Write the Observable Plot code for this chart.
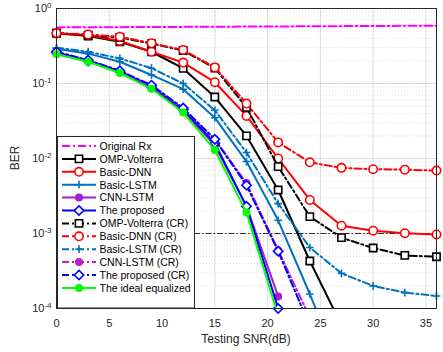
<!DOCTYPE html>
<html><head><meta charset="utf-8">
<script src="https://cdn.jsdelivr.net/npm/d3@7"></script>
<script src="https://cdn.jsdelivr.net/npm/@observablehq/plot@0.6"></script>
<style>html,body{margin:0;padding:0;background:#fff;} #chart{width:443px;height:352px;}</style>
</head><body><div id="chart"></div>
<script>
// ---- data ----
const snr = [0, 3, 6, 9, 12, 15, 18, 21, 24, 27, 30, 33, 36];
const xTicks = [0, 5, 10, 15, 20, 25, 30, 35];
const yTicks = [1e-4, 1e-3, 1e-2, 1e-1, 1];
const yTickExp = ["-4", "-3", "-2", "-1", "0"];
const threshold = [1e-3];

const originalRx     = [0.56, 0.562, 0.564, 0.566, 0.569, 0.571, 0.574, 0.576, 0.579, 0.582, 0.585, 0.587, 0.59];
const ompVolterra    = [0.47, 0.43, 0.36, 0.265, 0.159, 0.066, 0.02, 0.0038, 0.00043, 0.00006];
const basicDNN       = [0.46, 0.44, 0.37, 0.265, 0.19, 0.104, 0.037, 0.01, 0.0028, 0.00127, 0.00109, 0.00101, 0.00097];
const basicLSTM      = [0.29, 0.25, 0.195, 0.13, 0.084, 0.035, 0.0091, 0.0015, 0.000156, 0.000014];
const cnnLSTM        = [0.25, 0.2, 0.142, 0.088, 0.043, 0.015, 0.0023, 0.000145];
const proposed       = [0.26, 0.2, 0.145, 0.09, 0.045, 0.016, 0.0023, 0.0001];
const ompVolterraCR  = [0.47, 0.44, 0.41, 0.34, 0.275, 0.16, 0.048, 0.0078, 0.00168, 0.00088, 0.00064, 0.00051, 0.00049];
const basicDNNCR     = [0.47, 0.45, 0.42, 0.344, 0.28, 0.164, 0.054, 0.0164, 0.0089, 0.0075, 0.0072, 0.0071, 0.0069];
const basicLSTMCR    = [0.30, 0.265, 0.216, 0.16, 0.1, 0.044, 0.012, 0.0025, 0.00065, 0.000294, 0.0002, 0.000163, 0.000147];
const cnnLSTMCR      = [0.26, 0.2, 0.145, 0.092, 0.046, 0.018, 0.0047, 0.0006, 0.000076];
const proposedCR     = [0.265, 0.205, 0.148, 0.095, 0.047, 0.018, 0.0044, 0.00058, 0.000058];
const idealEqualized = [0.245, 0.195, 0.138, 0.085, 0.041, 0.013, 0.0019, 0.00008];

const names = ["Original Rx", "OMP-Volterra", "Basic-DNN", "Basic-LSTM", "CNN-LSTM", "The proposed",
  "OMP-Volterra (CR)", "Basic-DNN (CR)", "Basic-LSTM (CR)", "CNN-LSTM (CR)", "The proposed (CR)", "The ideal equalized"];
const seriesValues = [originalRx, ompVolterra, basicDNN, basicLSTM, cnnLSTM, proposed,
  ompVolterraCR, basicDNNCR, basicLSTMCR, cnnLSTMCR, proposedCR, idealEqualized];

// ---- styles ----
const DD = "7,3,2,3";
const styles = [
  {color: "#FF00FF", dash: "8,3,2,3", symbol: null},
  {color: "#000000", dash: null, symbol: "square", fill: "white", r: 4.1},
  {color: "#FF0000", dash: null, symbol: "circle", fill: "white", r: 4.2},
  {color: "#0072BD", dash: null, symbol: "plus", fill: "none", r: 2.6},
  {color: "#A020D0", dash: null, symbol: "circle", fill: "solid", r: 3.2},
  {color: "#0000FF", dash: null, symbol: "diamond2", fill: "white", r: 4.2},
  {color: "#000000", dash: DD, symbol: "square", fill: "white", r: 4.1},
  {color: "#FF0000", dash: DD, symbol: "circle", fill: "white", r: 4.2},
  {color: "#0072BD", dash: DD, symbol: "plus", fill: "none", r: 2.6},
  {color: "#C01EC8", dash: DD, symbol: "circle", fill: "solid", r: 3.2},
  {color: "#0000FF", dash: DD, symbol: "diamond2", fill: "white", r: 4.2},
  {color: "#00FF00", dash: null, symbol: "circle", fill: "solid", r: 3.2}
];

const minorY = [];
for (let e = -4; e < 0; e++) for (let k = 2; k <= 9; k++) minorY.push(k * Math.pow(10, e));

const marks = [
  Plot.ruleY(minorY, {stroke: "#000", strokeOpacity: 0.22, strokeDasharray: "1,2", strokeWidth: 0.6}),
  Plot.gridX(xTicks, {stroke: "#000", strokeOpacity: 0.13, strokeWidth: 1}),
  Plot.gridY(yTicks, {stroke: "#000", strokeOpacity: 0.13, strokeWidth: 1}),
  Plot.ruleY(threshold, {stroke: "#000", strokeWidth: 0.8, strokeDasharray: "6,2,1.5,2"}),
  Plot.axisX({ticks: xTicks, tickSize: 0, tickPadding: 11, label: null, fontSize: 11, color: "#262626"}),
  Plot.axisY({ticks: yTicks, tickSize: 0, tickPadding: 5, tickFormat: () => "10", label: null, fontSize: 11, color: "#262626"})
];

seriesValues.forEach((vals, i) => {
  const st = styles[i];
  const data = vals.map((v, j) => ({x: snr[j], y: v}));
  marks.push(Plot.line(data, {x: "x", y: "y", stroke: st.color, strokeWidth: 2, strokeDasharray: st.dash, clip: true}));
  if (st.symbol) {
    marks.push(Plot.dot(data, {
      x: "x", y: "y", filter: d => d.y >= 0.99e-4,
      symbol: st.symbol, r: st.r, stroke: st.color,
      fill: st.fill === "solid" ? st.color : st.fill, strokeWidth: 1.6
    }));
  }
});
marks.push(Plot.frame({stroke: "#262626", strokeWidth: 1}));

const svgNode = Plot.plot({
  width: 443, height: 352,
  marginLeft: 56, marginRight: 7, marginTop: 8, marginBottom: 44,
  x: {domain: [0, 36]},
  y: {type: "log", domain: [1e-4, 1]},
  style: {fontFamily: "'Liberation Sans', Arial, Helvetica, sans-serif", background: "white", overflow: "visible"},
  marks
});
document.getElementById("chart").appendChild(svgNode);

const svg = d3.select(svgNode);
// superscript exponents on y tick labels
svg.selectAll('g[aria-label="y-axis tick label"] text').each(function(_, i) {
  const t = d3.select(this);
  t.text("10");
  t.append("tspan").attr("dy", "-0.5em").attr("font-size", "8px").text(yTickExp[i]);
});

// axis titles
svg.append("text").attr("x", 246).attr("y", 343).attr("text-anchor", "middle")
  .attr("font-size", 12).attr("fill", "#262626").text("Testing SNR(dB)");
svg.append("text").attr("transform", "translate(19,158) rotate(-90)").attr("text-anchor", "middle")
  .attr("font-size", 12).attr("fill", "#262626").text("BER");

// legend
const symMap = {square: d3.symbolSquare, circle: d3.symbolCircle, plus: d3.symbolPlus, diamond2: d3.symbolDiamond2};
const lg = svg.append("g").attr("font-size", 10.5).attr("text-anchor", "start");
lg.append("rect").attr("x", 57.5).attr("y", 136.5).attr("width", 137).attr("height", 171.5)
  .attr("fill", "white").attr("stroke", "#262626").attr("stroke-width", 1);
names.forEach((name, i) => {
  const st = styles[i];
  const cy = 146 + i * 12.9;
  lg.append("line").attr("x1", 62).attr("x2", 96).attr("y1", cy).attr("y2", cy)
    .attr("stroke", st.color).attr("stroke-width", 2).attr("stroke-dasharray", st.dash);
  if (st.symbol) {
    lg.append("path").attr("transform", `translate(79,${cy})`)
      .attr("d", d3.symbol(symMap[st.symbol], Math.PI * st.r * st.r)())
      .attr("stroke", st.color).attr("stroke-width", 1.6)
      .attr("fill", st.fill === "solid" ? st.color : st.fill);
  }
  lg.append("text").attr("x", 99.5).attr("y", cy + 3.8).attr("text-anchor", "start").attr("fill", "#000").text(name);
});
</script>
</body></html>
